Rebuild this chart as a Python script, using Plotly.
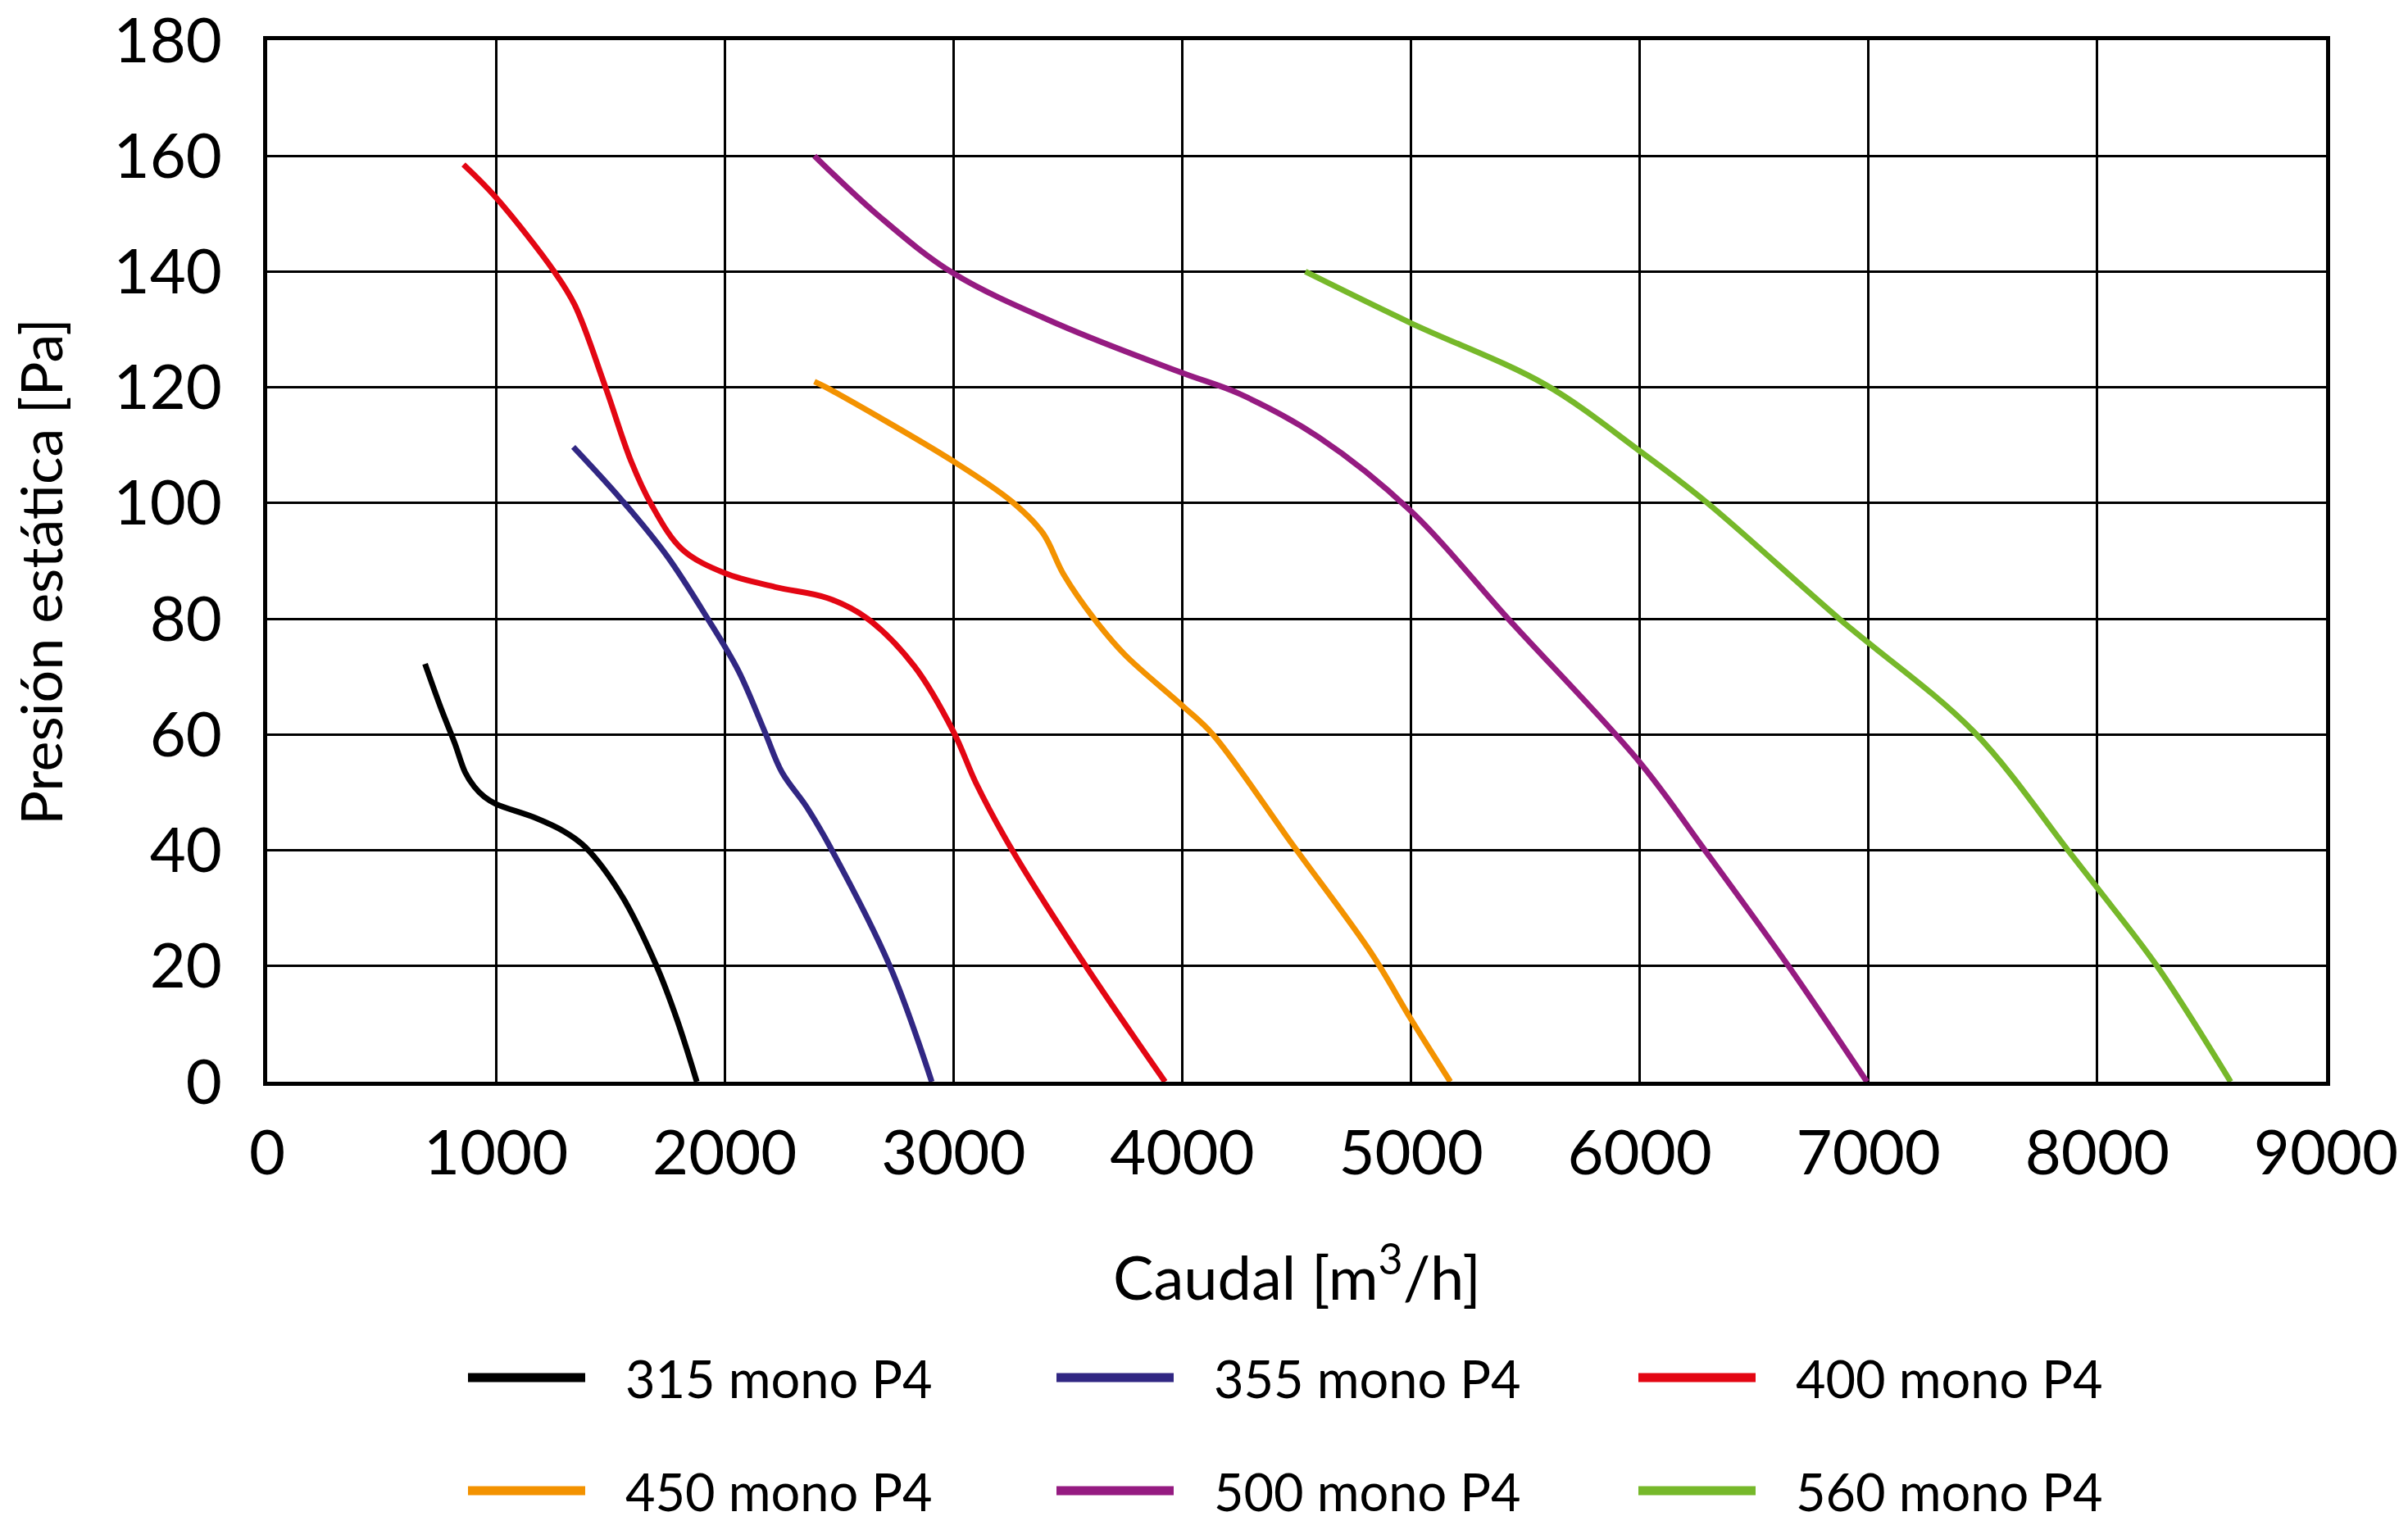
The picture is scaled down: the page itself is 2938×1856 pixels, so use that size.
import plotly.graph_objects as go

# fan curves: caudal [m3/h] vs presion estatica [Pa]
names = ["315 mono P4", "355 mono P4", "400 mono P4", "450 mono P4", "500 mono P4", "560 mono P4"]
colors = ["#000000", "#312783", "#E30613", "#F39200", "#951B81", "#76B82A"]

q_315 = [690, 760, 820, 865, 905, 950, 1000, 1166, 1300, 1389, 1546, 1702, 1791, 1878]
p_315 = [72.2, 64.5, 58.5, 53.5, 51.0, 49.2, 48.0, 45.7, 43.2, 40.6, 32.4, 20.0, 10.8, 0]

q_355 = [1338, 1546, 1747, 1926, 2060, 2175, 2250, 2358, 2455, 2722, 2905]
p_355 = [109.7, 100.7, 90.9, 80.0, 71.0, 60.5, 53.5, 47.5, 41.0, 20.0, 0]

q_400 = [858, 1000, 1255, 1345, 1479, 1591, 1680, 1814, 2000, 2221, 2449, 2625, 2829, 3000, 3101, 3257, 3570, 3925]
p_400 = [158.5, 152.8, 140.0, 134.2, 120.0, 107.2, 99.7, 92.0, 87.9, 85.5, 83.6, 80.0, 71.8, 60.5, 51.4, 40.0, 20.5, 0]

q_450 = [2392, 2443, 3000, 3257, 3391, 3481, 3615, 3749, 4000, 4134, 4480, 4827, 5000, 5172]
p_450 = [121.0, 120.0, 107.2, 100.2, 94.8, 87.7, 80.0, 73.8, 65.0, 60.0, 41.1, 22.2, 10.8, 0]

q_500 = [2392, 2677, 3000, 3459, 4000, 4249, 4596, 5000, 5425, 6000, 6285, 6650, 6993]
p_500 = [160.0, 149.5, 139.7, 130.9, 122.5, 118.9, 111.4, 98.6, 80.0, 55.2, 40.0, 20.0, 0]

q_560 = [4538, 5000, 5586, 6000, 6296, 6872, 7460, 7872, 8000, 8261, 8583]
p_560 = [140.0, 131.1, 120.5, 109.0, 100.0, 80.0, 60.5, 40.0, 33.5, 20.0, 0]

x_ticks = list(range(0, 9001, 1000))
y_ticks = list(range(0, 181, 20))

series = [(q_315, p_315), (q_355, p_355), (q_400, p_400),
          (q_450, p_450), (q_500, p_500), (q_560, p_560)]

FONT = "Lato"
fig = go.Figure()
for (q, p), name, col in zip(series, names, colors):
    fig.add_trace(go.Scatter(x=q, y=p, name=name, mode="lines",
                             line=dict(color=col, width=7, shape="spline", smoothing=1.0),
                             showlegend=False))

W, H = 2938, 1856
ml, mr, mt, mb = 318, 108, 41, 544
pw, ph = W - ml - mr, H - mt - mb

axis_common = dict(showgrid=True, gridcolor="black", gridwidth=2.5, automargin=False,
                   showline=True, linecolor="black", linewidth=5, mirror=True, zeroline=False,
                   ticks="", ticklabeloverflow="allow",
                   tickfont=dict(family=FONT, size=76, color="black"))
fig.update_xaxes(range=[0, 9000], tickvals=x_ticks, ticklabelstandoff=17, **axis_common)
fig.update_yaxes(range=[0, 180], tickvals=y_ticks, ticklabelstandoff=35, **axis_common)

anns = [
    dict(text="Caudal [m<sup>3</sup>/h]", x=0.5, y=-(1545 - (H - mb)) / ph, xref="paper", yref="paper",
         showarrow=False, xanchor="center", yanchor="middle", font=dict(family=FONT, size=74, color="black")),
    dict(text="Presión estática [Pa]", x=(41 - ml) / pw, y=0.5 - (690 - (mt + ph / 2)) / ph,
         xref="paper", yref="paper", textangle=-90, showarrow=False, xanchor="center", yanchor="middle",
         font=dict(family=FONT, size=70, color="black")),
]

# legend drawn by hand: 2 rows x 3 columns
shapes = []
col_x = [563, 1281, 1991]
row_y = [1673, 1811]
for i, (name, col) in enumerate(zip(names, colors)):
    cx = col_x[i % 3]
    ry = row_y[i // 3]
    y_p = (H - mb - ry) / ph
    shapes.append(dict(type="line", xref="paper", yref="paper",
                       x0=(cx - ml) / pw, x1=(cx + 143 - ml) / pw, y0=y_p, y1=y_p,
                       line=dict(color=col, width=11)))
    anns.append(dict(text=name, x=(cx + 190 - ml) / pw, y=y_p, xref="paper", yref="paper",
                     showarrow=False, xanchor="left", yanchor="middle",
                     font=dict(family=FONT, size=63, color="black")))

fig.update_layout(width=W, height=H, margin=dict(l=ml, r=mr, t=mt, b=mb),
                  plot_bgcolor="white", paper_bgcolor="white",
                  annotations=anns, shapes=shapes, showlegend=False)

fig.write_html("out.html")
